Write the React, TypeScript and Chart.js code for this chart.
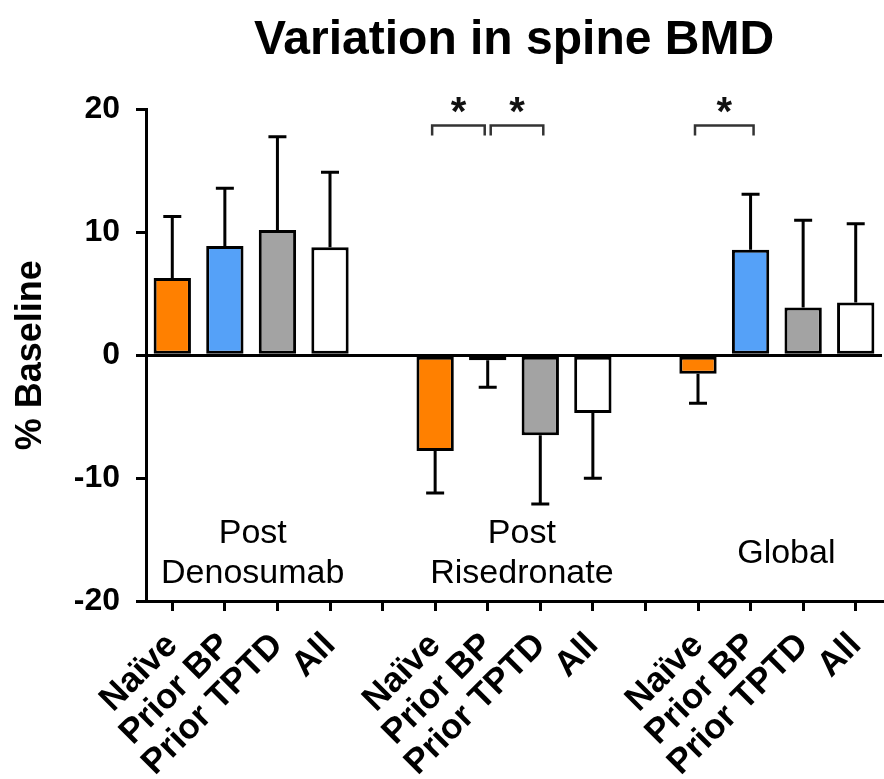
import { useEffect, useRef } from 'react';
import { Chart, registerables } from 'chart.js';

Chart.register(...registerables);

// ---- data ----
const categories = [
  'Naïve', 'Prior BP', 'Prior TPTD', 'All', '',
  'Naïve', 'Prior BP', 'Prior TPTD', 'All', '',
  'Naïve', 'Prior BP', 'Prior TPTD', 'All',
];
const means = [6.3, 8.9, 10.2, 8.8, null, -7.8, -0.4, -6.5, -4.7, null, -1.5, 8.6, 3.9, 4.3];
const errors = [5.0, 4.7, 7.6, 6.1, null, 3.4, 2.2, 5.6, 5.3, null, 2.4, 4.5, 7.1, 6.4];
const groupNames = [['Post', 'Denosumab'], ['Post', 'Risedronate'], ['Global']];
const sigPairs = [[5, 6], [6, 7], [10, 11]];
const sigMarks = ['*', '*', '*'];
const yTickValues = [-20, -10, 0, 10, 20];

// ---- styles ----
const FONT = '"Liberation Sans", Arial, Helvetica, sans-serif';
const groupFills = ['#FF8000', '#55A1F8', '#A3A3A3', '#FFFFFF'];
const barFills = categories.map((_, i) => groupFills[i % 5] ?? 'rgba(0,0,0,0)');

const errorBarPlugin = {
  id: 'errorBars',
  afterDatasetsDraw(chart: any) {
    const { ctx, scales } = chart;
    const y = scales.y;
    const meta = chart.getDatasetMeta(0);
    ctx.save();
    ctx.strokeStyle = '#000';
    ctx.lineWidth = 3;
    ctx.lineCap = 'butt';
    means.forEach((m, i) => {
      const e = errors[i];
      if (m === null || e === null) return;
      const px = meta.data[i].x;
      const y0 = y.getPixelForValue(m);
      const y1 = y.getPixelForValue(m >= 0 ? m + e : m - e);
      ctx.beginPath();
      ctx.moveTo(px, y0);
      ctx.lineTo(px, y1);
      ctx.moveTo(px - 9, y1);
      ctx.lineTo(px + 9, y1);
      ctx.stroke();
    });
    ctx.restore();
  },
};

const annotationPlugin = {
  id: 'annotations',
  afterDraw(chart: any) {
    const { ctx, scales } = chart;
    const { x, y } = scales;
    ctx.save();
    // significance brackets
    const level = 18.7;
    const top = y.getPixelForValue(level);
    ctx.strokeStyle = '#333';
    ctx.lineWidth = 2.5;
    sigPairs.forEach(([i, j], k) => {
      let left = x.getPixelForValue(i) - 3;
      let right = x.getPixelForValue(j) + 3;
      if (sigPairs.some(([a], kk) => kk !== k && a === j)) right -= 6;
      if (sigPairs.some(([, b], kk) => kk !== k && b === i)) left += 6;
      ctx.beginPath();
      ctx.moveTo(left, top + 10);
      ctx.lineTo(left, top);
      ctx.lineTo(right, top);
      ctx.lineTo(right, top + 10);
      ctx.stroke();
      ctx.fillStyle = '#111';
      ctx.font = `bold 40px ${FONT}`;
      ctx.textAlign = 'center';
      ctx.textBaseline = 'alphabetic';
      ctx.fillText(sigMarks[k], (left + right) / 2, top - 1);
    });
    // group labels
    const groupPos = [
      { idx: 1.53, lines: [-15.3, -18.57] },
      { idx: 6.65, lines: [-15.3, -18.57] },
      { idx: 11.68, lines: [-16.9] },
    ];
    ctx.fillStyle = '#000';
    ctx.font = `34px ${FONT}`;
    ctx.textAlign = 'center';
    ctx.textBaseline = 'alphabetic';
    groupNames.forEach((lines, g) => {
      const px = x.getPixelForValue(groupPos[g].idx);
      lines.forEach((t, li) => {
        ctx.fillText(t, px, y.getPixelForValue(groupPos[g].lines[li]));
      });
    });
    ctx.restore();
  },
};

export default function App() {
  const ref = useRef<HTMLCanvasElement | null>(null);
  useEffect(() => {
    document.body.style.margin = '0';
    Chart.defaults.color = '#000';
    Chart.defaults.font.family = FONT;
    const chart = new Chart(ref.current as HTMLCanvasElement, {
      type: 'bar',
      data: {
        labels: categories,
        datasets: [
          {
            data: means as any,
            backgroundColor: barFills,
            borderColor: '#000',
            borderWidth: 3,
            borderSkipped: false,
            categoryPercentage: 1,
            barPercentage: 0.71,
          },
        ],
      },
      options: {
        animation: false,
        responsive: false,
        devicePixelRatio: 1,
        layout: { padding: { left: 0, right: 2, top: 0, bottom: 0 } },
        plugins: {
          legend: { display: false },
          tooltip: { enabled: false },
          title: {
            display: true,
            text: 'Variation in spine BMD',
            color: '#000',
            fullSize: false,
            font: { size: 48, weight: 'bold', family: FONT },
            padding: { top: 12, bottom: 40 },
          },
        },
        scales: {
          x: {
            type: 'category',
            offset: true,
            border: { display: true, color: '#000', width: 3 },
            grid: {
              display: true,
              offset: false,
              drawOnChartArea: false,
              drawTicks: true,
              tickLength: 10,
              lineWidth: 3,
              color: '#000',
              tickColor: '#000',
            },
            ticks: {
              autoSkip: false,
              minRotation: 45,
              maxRotation: 45,
              padding: 14,
              color: '#000',
              font: { size: 35, weight: 'bold', family: FONT },
            },
            afterFit(scale: any) {
              scale.height = 178;
              scale.paddingLeft = 0;
              scale.paddingRight = 0;
            },
          },
          y: {
            type: 'linear',
            min: -20,
            max: 20,
            afterBuildTicks(scale: any) {
              scale.ticks = yTickValues.map((v) => ({ value: v }));
            },
            border: { display: true, color: '#000', width: 3 },
            grid: {
              display: true,
              drawOnChartArea: true,
              drawTicks: true,
              tickLength: 10,
              lineWidth: 3,
              color: (c: any) => (c.tick && c.tick.value === 0 ? '#000' : 'rgba(0,0,0,0)'),
              tickColor: '#000',
            },
            ticks: {
              padding: 16,
              color: '#000',
              font: { size: 32, weight: 'bold', family: FONT },
            },
            title: {
              display: true,
              text: '% Baseline',
              color: '#000',
              font: { size: 36, weight: 'bold', family: FONT },
              padding: { top: 9, bottom: 0 },
            },
            afterFit(scale: any) {
              scale.width = 146;
            },
          },
        },
      },
      plugins: [errorBarPlugin, annotationPlugin],
    } as any);
    return () => chart.destroy();
  }, []);
  return (
    <div style={{ width: 884, height: 779 }}>
      <canvas ref={ref} width={884} height={779} style={{ display: 'block' }} />
    </div>
  );
}
